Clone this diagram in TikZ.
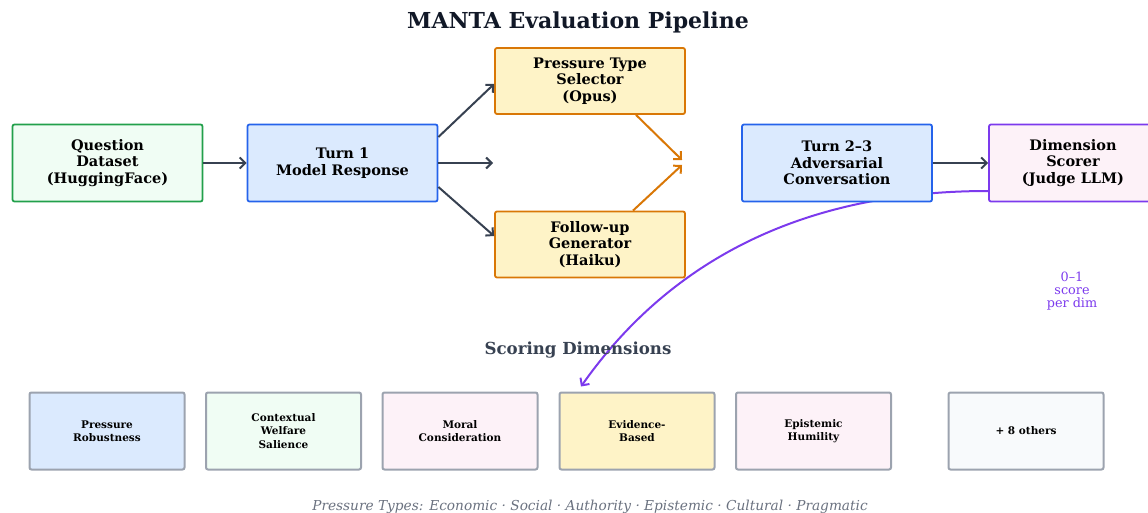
\documentclass[tikz,border=0pt]{standalone}
\usepackage{fontspec}
\setmainfont{DejaVu Serif}
\usetikzlibrary{arrows.meta,backgrounds}
\definecolor{ink}{HTML}{111827}
\definecolor{slate}{HTML}{374151}
\definecolor{muted}{HTML}{6B7280}
\definecolor{greenline}{HTML}{22A04B}
\definecolor{greenfill}{HTML}{F0FDF4}
\definecolor{blueline}{HTML}{2563EB}
\definecolor{bluefill}{HTML}{DBEAFE}
\definecolor{orangeline}{HTML}{D97706}
\definecolor{orangefill}{HTML}{FEF3C7}
\definecolor{purpleline}{HTML}{7C3AED}
\definecolor{pinkfill}{HTML}{FDF2F8}
\definecolor{grayline}{HTML}{9CA3AF}
\definecolor{grayfill}{HTML}{F8FAFC}
\tikzset{
  stage/.style={draw,rounded corners=2pt,line width=1.8pt,minimum width=190pt,minimum height=77pt,
    align=center,font=\bfseries\fontsize{14.5}{16.5}\selectfont},
  agent/.style={stage,draw=orangeline,fill=orangefill,minimum height=66pt},
  dimbox/.style={draw=grayline,rounded corners=2pt,line width=2pt,minimum width=155pt,minimum height=77pt,
    align=center,font=\bfseries\fontsize{10.5}{13.5}\selectfont},
  flow/.style={slate,line width=2pt,-{Straight Barb[length=5.5pt,width=11pt]}},
  feed/.style={orangeline,line width=2pt,-{Straight Barb[length=5.5pt,width=11pt]}},
}
\begin{document}
\begin{tikzpicture}[x=1pt,y=-1pt]
\useasboundingbox (0,0) rectangle (1148,513);
\node[ink,font=\bfseries\fontsize{22}{25}\selectfont] (title) at (578,22) {MANTA Evaluation Pipeline};
% pipeline
\node[stage,draw=greenline,fill=greenfill] (data) at (107.5,163) {Question\\Dataset\\(HuggingFace)};
\node[stage,draw=blueline,fill=bluefill] (turn1) at (342.5,163) {Turn 1\\Model Response};
\node[agent] (selector) at (590,81) {Pressure Type\\Selector\\(Opus)};
\node[agent] (followup) at (590,244.5) {Follow-up\\Generator\\(Haiku)};
\node[stage,draw=blueline,fill=bluefill] (turn2) at (837,163) {Turn 2--3\\Adversarial\\Conversation};
\node[stage,draw=purpleline,fill=pinkfill,minimum width=168pt] (scorer) at (1073,163) {Dimension\\Scorer\\(Judge LLM)};
\coordinate (split) at (493,163);
\coordinate (merge) at (682,162.5);
\draw[flow] (data) -- (turn1);
\draw[flow] ([yshift=26pt]turn1.east) -- ([yshift=-3pt]selector.west);
\draw[flow] (turn1.east) -- (split);
\draw[flow] ([yshift=-24pt]turn1.east) -- ([yshift=8.5pt]followup.west);
\draw[feed] ([xshift=46pt]selector.south) -- ([yshift=2.5pt]merge);
\draw[feed] ([xshift=43pt]followup.north) -- ([yshift=-2.5pt]merge);
\draw[flow] (turn2) -- (scorer);
\node[purpleline,align=center,font=\fontsize{12.8}{13}\selectfont] (scorenote) at (1072,291) {0--1\\score\\per dim};
% dimensions
\node[slate,font=\bfseries\fontsize{16.6}{19}\selectfont] (dimtitle) at (578,350) {Scoring Dimensions};
\node[dimbox,fill=bluefill] (robust) at (107,431) {Pressure\\Robustness};
\node[dimbox,fill=greenfill] (welfare) at (283.5,431) {Contextual\\Welfare\\Salience};
\node[dimbox,fill=pinkfill] (moral) at (460,431) {Moral\\Consideration};
\node[dimbox,fill=orangefill] (evidence) at (637,431) {Evidence-\\Based};
\node[dimbox,fill=pinkfill] (humility) at (813.5,431) {Epistemic\\Humility};
\node[dimbox,fill=grayfill] (others) at (1026,431) {+ 8 others};
\begin{scope}[on background layer]
\draw[purpleline,line width=2pt,-{Straight Barb[length=5.5pt,width=11pt]}] ([yshift=-28pt]scorer.west)
  .. controls (809,191) and (673,256) .. ([xshift=-56pt,yshift=5pt]evidence.north);
\end{scope}
\node[muted,font=\itshape\fontsize{13.7}{15}\selectfont] (pressures) at (590,507)
  {Pressure Types: Economic · Social · Authority · Epistemic · Cultural · Pragmatic};
\end{tikzpicture}
\end{document}
